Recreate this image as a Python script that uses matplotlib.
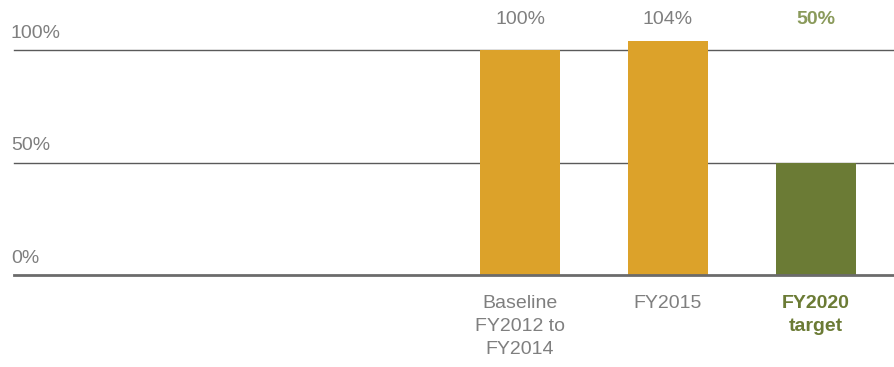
import matplotlib
matplotlib.use("Agg")
import matplotlib.pyplot as plt
import matplotlib.transforms as mtransforms

plt.rcParams['font.family'] = ['Liberation Sans', 'DejaVu Sans']

categories = ["Baseline\nFY2012 to\nFY2014", "FY2015", "FY2020\ntarget"]
values = [100, 104, 50]
value_labels = ["100%", "104%", "50%"]
positions = [3, 4, 5]
bar_colors = ["#DCA22A", "#DCA22A", "#6B7B35"]
label_colors = ["#7F7F7F", "#7F7F7F", "#8A9A5B"]
cat_colors = ["#7F7F7F", "#7F7F7F", "#6B7B35"]
cat_weights = ["normal", "normal", "bold"]
value_weights = ["normal", "normal", "bold"]
yticks = [0, 50, 100]
ytick_labels = ["0%", "50%", "100%"]

fig = plt.figure(figsize=(8.94, 3.67), dpi=100)
ymax = 120
ax = fig.add_axes([14/894, 1 - 275/367, 880/894, (2.25 * ymax)/367])
ax.set_ylim(0, ymax)
ax.set_xlim(-0.419, 5.527)
ax.set_axis_off()

# gridlines
for t in yticks[1:]:
    ax.axhline(t, color="#5A5A5A", lw=1.0, zorder=1, clip_on=False)
ax.axhline(0, color="#6B6B6B", lw=2.0, zorder=3, clip_on=False)

ax.bar(positions, values, width=0.54, color=bar_colors, zorder=2)

trans = mtransforms.blended_transform_factory(fig.transFigure, ax.transData)
for t, lab in zip(yticks, ytick_labels):
    ax.text(11/894, t, lab, transform=mtransforms.offset_copy(trans, fig=fig, y=6, units='points'),
            ha='left', va='bottom', fontsize=14, color="#7F7F7F")

# value labels at top
ytop = mtransforms.blended_transform_factory(ax.transData, fig.transFigure)
for x, lab, c, w in zip(positions, value_labels, label_colors, value_weights):
    ax.text(x, 1 - 19/367, lab, transform=ytop, ha='center', va='center',
            fontsize=14, color=c, fontweight=w)

# category labels
for x, lab, c, w in zip(positions, categories, cat_colors, cat_weights):
    ax.text(x, 1 - 295/367, lab, transform=ytop, ha='center', va='top',
            fontsize=14, color=c, fontweight=w, linespacing=1.45)

fig.savefig("out.png", dpi=100)
